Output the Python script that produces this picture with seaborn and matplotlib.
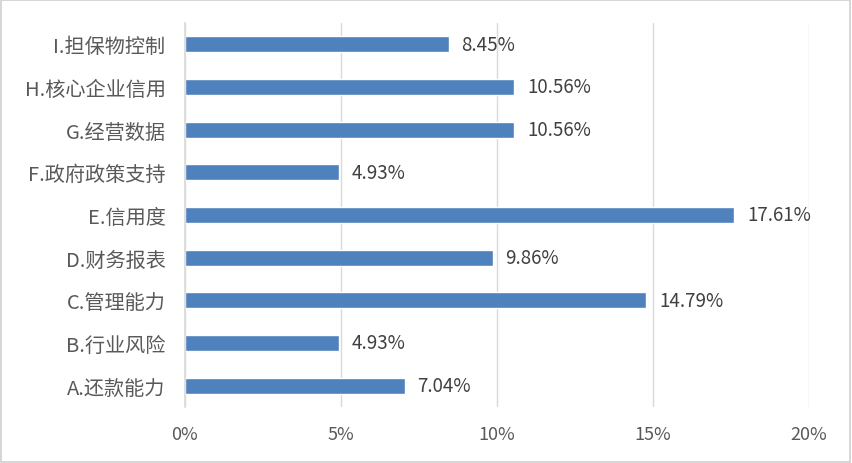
import matplotlib
matplotlib.use("Agg")
import matplotlib.pyplot as plt
import seaborn as sns
import pandas as pd
from matplotlib.patches import Rectangle

sns.set_theme(style="white")
plt.rcParams['font.family'] = ['Noto Sans CJK SC', 'DejaVu Sans']

# 数据（从上到下）
categories = ["I.担保物控制", "H.核心企业信用", "G.经营数据", "F.政府政策支持", "E.信用度",
              "D.财务报表", "C.管理能力", "B.行业风险", "A.还款能力"]
values = [8.45, 10.56, 10.56, 4.93, 17.61, 9.86, 14.79, 4.93, 7.04]
xticks = [0, 5, 10, 15, 20]

df = pd.DataFrame({"factor": categories, "pct": values})

text_color = "#595959"
grid_color = "#D9D9D9"

fig = plt.figure(figsize=(8.52, 4.64), dpi=100)
ax = fig.add_axes([0.2171, 0.1207, 0.9495 - 0.2171, 0.9483 - 0.1207])

sns.barplot(data=df, x="pct", y="factor", orient="h", color="#4F81BD",
            saturation=1, width=0.37, ax=ax)

ax.set_xlim(0, 20)
ax.set_xticks(xticks)
ax.set_xticklabels([f"{t}%" for t in xticks], fontsize=13, color=text_color)
ax.tick_params(axis="x", length=0, pad=13)
ax.tick_params(axis="y", length=0, pad=14, labelsize=14.5, labelcolor=text_color)
ax.set_xlabel("")
ax.set_ylabel("")
ax.xaxis.grid(True, color=grid_color, linewidth=1)
ax.set_axisbelow(True)
for s in ["top", "right", "bottom"]:
    ax.spines[s].set_visible(False)
ax.spines["left"].set_color(grid_color)
ax.spines["left"].set_linewidth(1.2)

for i, v in enumerate(values):
    ax.text(v + 0.4, i, f"{v:.2f}%", va="center", ha="left", fontsize=13.5, color="#404040")

fig.patches.append(Rectangle((0.001, 0.002), 0.997, 0.995, transform=fig.transFigure,
                             fill=False, edgecolor="#D0D0D0", linewidth=1.2))

fig.savefig("out.png", dpi=100)
